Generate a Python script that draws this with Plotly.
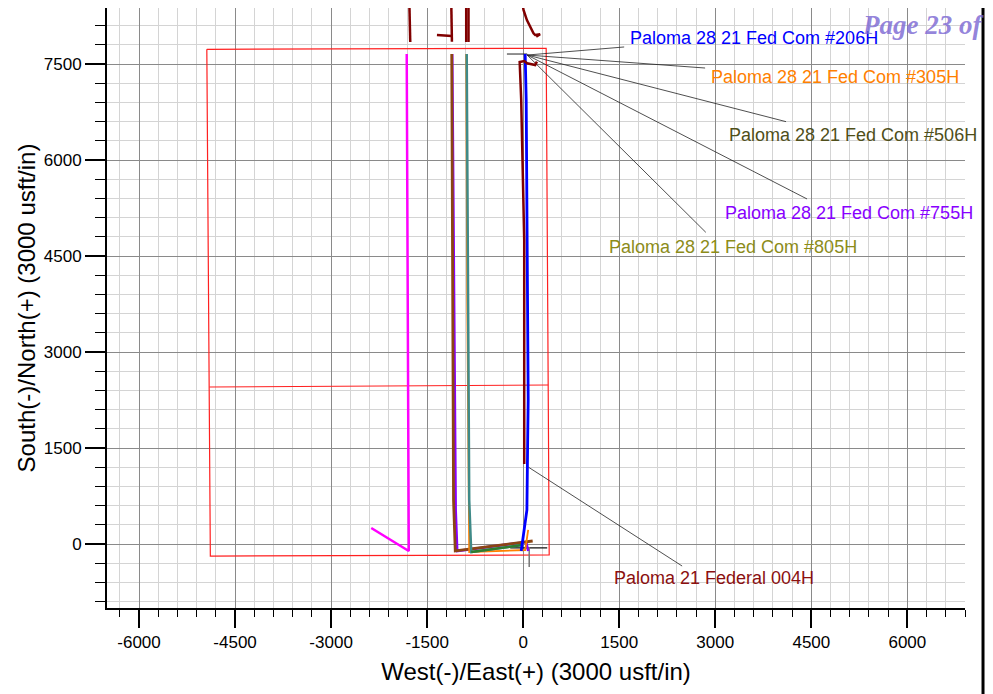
import plotly.graph_objects as go

FONT = "Liberation Sans, Arial, Helvetica, sans-serif"

# ---------------- data (usft) ----------------
lease_x = [-4941, 359, 406, -4886, -4941]
lease_y = [7730, 7745, -172, -188, 7730]
section_line_x = [-4902, 390]
section_line_y = [2453, 2484]

magenta_x = [-2373, -1787, -1819]
magenta_y = [250, -109, 7656]

w755_x = [78, 47, -1030, -1054, -1108]
w755_y = [-109, 31, -109, 531, 7656]

brown_x = [148, -1061, -1088, -1116]
brown_y = [47, -109, 687, 7656]

w305_x = [78, 31, -843, -874, -890]
w305_y = [219, -94, -125, 3812, 7656]

teal_x = [-16, -812, -843, -879, -882]
teal_y = [-16, -125, 687, 6937, 7656]

w506_x = [-812, -16]
w506_y = [-125, -16]

w206_x = [-31, 58, 70, 78, 47, 31]
w206_y = [-109, 531, 1625, 2250, 6937, 7656]

w004_x = [16, 16, -31, -55, 16, 62, 187, 214]
w004_y = [1250, 4750, 6937, 7531, 7547, 7511, 7484, 7536]

offset_a_x = [-1779, -1764]
offset_a_y = [8500, 7844]
offset_b_x = [-1124, -1113]
offset_b_y = [8500, 7849]
offset_b_stub_x = [-1347, -1113]
offset_b_stub_y = [7953, 7937]
offset_c_x = [-890, -890]
offset_c_y = [8500, 7844]
offset_d_x = [-854, -854]
offset_d_y = [8500, 7844]
offset_e_x = [-20, 5, 58, 161, 187, 265, 203]
offset_e_y = [8500, 8344, 8187, 7979, 7953, 7964, 7927]

marker_h_x = [-203, 375]
marker_h_y = [-62, -62]
marker_v_x = [94, 94]
marker_v_y = [-47, -359]
top_h_x = [-254, 62]
top_h_y = [7656, 7656]

label_texts = ["Paloma 28 21 Fed Com #206H", "Paloma 28 21 Fed Com #305H",
               "Paloma 28 21 Fed Com #506H", "Paloma 28 21 Fed Com #755H",
               "Paloma 28 21 Fed Com #805H", "Paloma 21 Federal 004H"]
label_x = [1640, 2905, 3185, 3125, 1310, 1390]
label_y = [7906, 7297, 6391, 5172, 4641, -531]
leader_start_x = [62, 62, 62, 62, 62, 78]
leader_start_y = [7640, 7640, 7640, 7640, 7640, 1203]
leader_end_x = [1577, 2841, 4105, 4433, 2852, 2482]
leader_end_y = [7766, 7437, 6599, 5391, 4870, -344]

x_tick_vals = [-6000, -4500, -3000, -1500, 0, 1500, 3000, 4500, 6000]
x_tick_text = ["-6000", "-4500", "-3000", "-1500", "0", "1500", "3000", "4500", "6000"]
y_tick_vals = [0, 1500, 3000, 4500, 6000, 7500]
y_tick_text = ["0", "1500", "3000", "4500", "6000", "7500"]

# ---------------- styles ----------------
label_colors = ["#0000FF", "#FF8000", "#4F4F1A", "#8800FF", "#8C8C1A", "#8B1010"]

fig = go.Figure()

def add_line(x, y, color, width):
    fig.add_trace(go.Scatter(x=x, y=y, mode="lines",
                             line=dict(color=color, width=width),
                             hoverinfo="skip", showlegend=False))

add_line(lease_x, lease_y, "#FF2020", 1.2)
add_line(section_line_x, section_line_y, "#FF2020", 1.2)

for lx0, ly0, lx1, ly1 in zip(leader_start_x, leader_start_y, leader_end_x, leader_end_y):
    add_line([lx0, lx1], [ly0, ly1], "#222222", 0.8)

add_line(top_h_x, top_h_y, "#222222", 1)
add_line(marker_h_x, marker_h_y, "#111111", 1.2)
add_line(marker_v_x, marker_v_y, "#777777", 1.5)

add_line(magenta_x, magenta_y, "#FF00FF", 2.5)
add_line(w755_x, w755_y, "#8800FF", 2.5)
add_line(brown_x, brown_y, "#8B4513", 2.8)
add_line(w305_x, w305_y, "#FF8000", 1.8)
add_line(teal_x, teal_y, "#3F8A88", 2.5)
add_line(w506_x, w506_y, "#2E7D2E", 2.5)
add_line(w206_x, w206_y, "#0000FF", 2.8)
add_line(w004_x, w004_y, "#800000", 2.5)

for ox, oy in [(offset_a_x, offset_a_y), (offset_b_x, offset_b_y),
               (offset_b_stub_x, offset_b_stub_y), (offset_c_x, offset_c_y),
               (offset_d_x, offset_d_y), (offset_e_x, offset_e_y)]:
    add_line(ox, oy, "#800000", 2.5)

for txt, tx, ty, col in zip(label_texts, label_x, label_y, label_colors):
    fig.add_annotation(x=tx, y=ty, text=txt, showarrow=False, xanchor="left",
                       yanchor="middle", font=dict(family=FONT, size=18, color=col))

fig.add_annotation(xref="paper", yref="paper", x=0.8776, y=0.9717, text="<b><i>Page 23 of 5</i></b>",
                   showarrow=False, xanchor="left", yanchor="middle",
                   font=dict(family="Liberation Serif, Times New Roman, serif", size=27,
                             color="rgba(120,100,210,0.8)"))

fig.add_shape(type="line", xref="paper", yref="paper", x0=1.021, x1=1.021, y0=-0.2, y1=1.1,
              line=dict(color="black", width=3))

axis_common = dict(
    showline=True, linecolor="black", linewidth=2, mirror=False,
    showgrid=True, gridcolor="#8a8a8a", gridwidth=1,
    zeroline=False, ticks="outside", tickwidth=2, tickcolor="black",
    tickfont=dict(family=FONT, size=17, color="black"),
)

fig.update_xaxes(
    **axis_common, range=[-6500, 6900], tickmode="array", tickvals=x_tick_vals,
    ticktext=x_tick_text, ticklen=18,
    minor=dict(tickmode="linear", tick0=0, dtick=300, showgrid=True, gridcolor="#d4d4d4",
               gridwidth=1, ticks="outside", ticklen=7, tickwidth=1, tickcolor="black"),
    title=dict(text="West(-)/East(+) (3000 usft/in)", font=dict(family=FONT, size=24, color="black"),
               standoff=12),
)
fig.update_yaxes(
    **axis_common, range=[-1000, 8375], tickmode="array", tickvals=y_tick_vals,
    ticktext=y_tick_text, ticklen=20,
    minor=dict(tickmode="linear", tick0=0, dtick=300, showgrid=True, gridcolor="#d4d4d4",
               gridwidth=1, ticks="outside", ticklen=10, tickwidth=1, tickcolor="black"),
    title=dict(text="South(-)/North(+) (3000 usft/in)", font=dict(family=FONT, size=24, color="black"),
               standoff=1),
)

fig.update_layout(
    width=985, height=686,
    margin=dict(l=99, r=28, t=0, b=86, autoexpand=False),
    plot_bgcolor="white", paper_bgcolor="white",
    showlegend=False,
)
fig.update_xaxes(automargin=False)
fig.update_yaxes(automargin=False)

fig.write_html("out.html")
